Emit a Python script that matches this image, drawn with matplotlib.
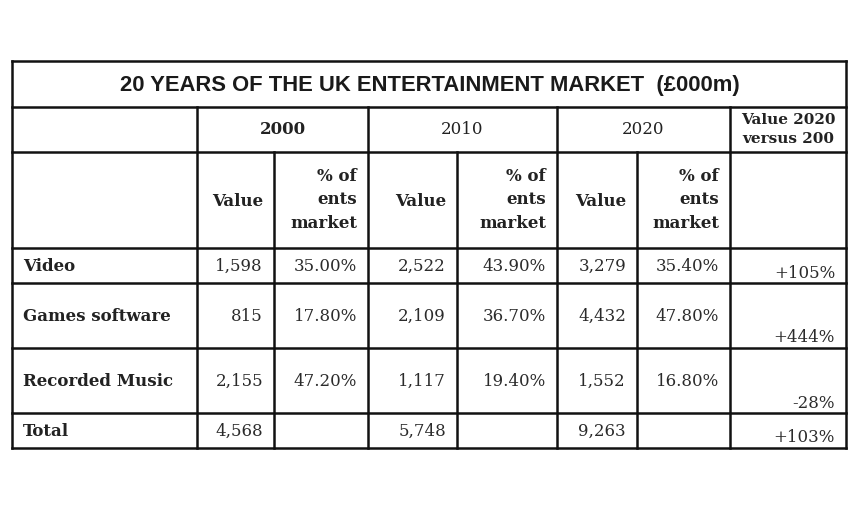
import matplotlib.pyplot as plt

# table data
title = '20 YEARS OF THE UK ENTERTAINMENT MARKET  (£000m)'
categories = ['Video', 'Games software', 'Recorded Music', 'Total']
years = ['2000', '2010', '2020']
values_2000 = [1598, 815, 2155, 4568]
pct_2000 = [35.0, 17.8, 47.2, None]
values_2010 = [2522, 2109, 1117, 5748]
pct_2010 = [43.9, 36.7, 19.4, None]
values_2020 = [3279, 4432, 1552, 9263]
pct_2020 = [35.4, 47.8, 16.8, None]
change_2020_vs_2000 = [105, 444, -28, 103]

# layout (pixel grid)
col_x = [12, 197, 274, 368, 457, 557, 637, 730, 846]
row_y = [61, 107, 152, 248, 283, 348, 413, 448]

SERIF = 'DejaVu Serif'
SANS = 'Liberation Sans'
FS = 12

fig = plt.figure(figsize=(8.6, 5.3), dpi=100)
ax = fig.add_axes([0, 0, 1, 1])
ax.set_xlim(0, 860)
ax.set_ylim(530, 0)
ax.axis('off')

lw = 1.8
col = '#111111'
left, right = col_x[0], col_x[-1]
# horizontal lines
for y in row_y:
    ax.plot([left, right], [y, y], color=col, lw=lw, solid_capstyle='projecting')
# outer verticals
for x in (left, right):
    ax.plot([x, x], [row_y[0], row_y[-1]], color=col, lw=lw)
# verticals under title
for x in (col_x[1], col_x[3], col_x[5], col_x[7]):
    ax.plot([x, x], [row_y[1], row_y[-1]], color=col, lw=lw)
for x in (col_x[2], col_x[4], col_x[6]):
    ax.plot([x, x], [row_y[2], row_y[-1]], color=col, lw=lw)

# title
ax.text((left + right) / 2 + 1, (row_y[0] + row_y[1]) / 2 + 1, title, ha='center', va='center',
        fontsize=15.8, fontweight='bold', family=SANS, color='#1a1a1a')

# year headers
ymid = (row_y[1] + row_y[2]) / 2
for i, yr in enumerate(years):
    cx = (col_x[1 + 2 * i] + col_x[3 + 2 * i]) / 2
    ax.text(cx, ymid, yr, ha='center', va='center', fontsize=FS, family=SERIF,
            fontweight='bold' if i == 0 else 'normal', color='#222222')
ax.text((col_x[7] + col_x[8]) / 2, ymid, 'Value 2020\nversus 200', ha='center', va='center',
        fontsize=FS - 1, family=SERIF, fontweight='bold', linespacing=1.4, color='#222222')

# sub headers
ymid = (row_y[2] + row_y[3]) / 2
for i in range(3):
    ax.text(col_x[2 + 2 * i] - 11, ymid + 1, 'Value', ha='right', va='center', fontsize=FS,
            family=SERIF, fontweight='bold', color='#222222')
    ax.text(col_x[3 + 2 * i] - 11, ymid, '% of\nents\nmarket', ha='right', va='center',
            multialignment='right', fontsize=FS, family=SERIF, fontweight='bold',
            linespacing=1.5, color='#222222')

# body
vals = [values_2000, values_2010, values_2020]
pcts = [pct_2000, pct_2010, pct_2020]
for r, cat in enumerate(categories):
    top, bot = row_y[3 + r], row_y[4 + r]
    ym = (top + bot) / 2 + 1
    ax.text(col_x[0] + 11, ym, cat, ha='left', va='center', fontsize=FS, family=SERIF,
            fontweight='bold', color='#222222')
    for i in range(3):
        ax.text(col_x[2 + 2 * i] - 11, ym, f'{vals[i][r]:,}', ha='right', va='center',
                fontsize=FS, family=SERIF, color='#2b2b2b')
        if pcts[i][r] is not None:
            ax.text(col_x[3 + 2 * i] - 11, ym, f'{pcts[i][r]:.2f}%', ha='right', va='center',
                    fontsize=FS, family=SERIF, color='#2b2b2b')
    ax.text(col_x[8] - 11, bot - 5.5, f'{change_2020_vs_2000[r]:+d}%', ha='right', va='baseline',
            fontsize=FS, family=SERIF, color='#2b2b2b')

fig.savefig('out.png', dpi=100, facecolor='white')
